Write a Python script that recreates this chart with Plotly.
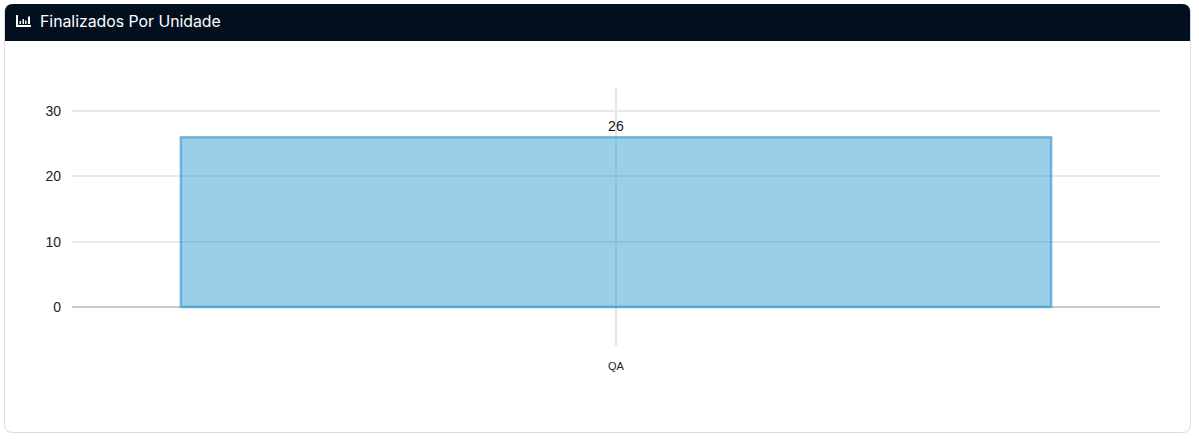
import plotly.graph_objects as go

categories = ["QA"]
values = [26]
y_ticks = [0, 10, 20, 30]
title_text = "Finalizados Por Unidade"

W, H = 1199, 439
L, R, T, B = 72, 1160, 88, 346


def px(x):
    return (x - L) / (R - L)


def py(y):
    return (B - y) / (B - T)


def rounded(x0, y0, x1, y1, r_top, r_bot):
    # pixel-anchored shapes: x grows right from L, y grows upward from T
    X = lambda v: round(v - L, 2)
    Y = lambda v: round(T - v, 2)
    d = (f"M{X(x0)},{Y(y0 + r_top)} Q{X(x0)},{Y(y0)} {X(x0 + r_top)},{Y(y0)} "
         f"L{X(x1 - r_top)},{Y(y0)} Q{X(x1)},{Y(y0)} {X(x1)},{Y(y0 + r_top)} ")
    if r_bot:
        d += (f"L{X(x1)},{Y(y1 - r_bot)} Q{X(x1)},{Y(y1)} {X(x1 - r_bot)},{Y(y1)} "
              f"L{X(x0 + r_bot)},{Y(y1)} Q{X(x0)},{Y(y1)} {X(x0)},{Y(y1 - r_bot)} Z")
    else:
        d += f"L{X(x1)},{Y(y1)} L{X(x0)},{Y(y1)} Z"
    return d


def box(x0, y0, x1, y1, color):
    return dict(type="rect", xref="paper", yref="paper", layer="above",
                x0=px(x0), x1=px(x1), y0=py(y1), y1=py(y0),
                fillcolor=color, line_width=0)


def pix_path(x0, y0, x1, y1, r_top, r_bot, fill, line=None):
    return dict(type="path", xref="paper", yref="paper", xsizemode="pixel", ysizemode="pixel",
                xanchor=0, yanchor=1, path=rounded(x0, y0, x1, y1, r_top, r_bot), fillcolor=fill,
                line=dict(color=line or fill, width=1 if line else 0), layer="below")


shapes = [
    pix_path(4.5, 4.5, 1190.5, 432.5, 8, 8, "#ffffff", "#dcdcdc"),
    pix_path(5, 4, 1190, 41, 8, 0, "#020f1e"),
    # header icon
    box(16, 15, 18, 27, "#ffffff"),
    box(16, 25, 31, 27, "#ffffff"),
    box(19.5, 21, 21, 24, "#f4f4f4"),
    box(22.5, 19, 24, 24, "#f4f4f4"),
    box(25, 20.5, 26.5, 24, "#f4f4f4"),
    box(28, 16.5, 30, 24, "#ffffff"),
]

fig = go.Figure(
    go.Bar(
        x=categories,
        y=values,
        width=0.8,
        text=values,
        textposition="outside",
        cliponaxis=False,
        textfont=dict(family="Liberation Sans, Arial, sans-serif", size=14, color="#111111"),
        marker=dict(color="rgba(3,136,201,0.4)", line=dict(color="rgba(50,150,200,0.6)", width=2.5)),
        hoverinfo="x+y",
    )
)

fig.update_layout(
    width=W,
    height=H,
    margin=dict(l=L, r=W - R, t=T, b=H - B, pad=0),
    paper_bgcolor="#ffffff",
    plot_bgcolor="rgba(0,0,0,0)",
    showlegend=False,
    shapes=shapes,
    annotations=[
        dict(text=title_text, xref="paper", yref="paper", x=px(37.5), y=py(21.5),
             xanchor="left", yanchor="middle", showarrow=False,
             font=dict(family="Inter, Open Sans, sans-serif", size=15.8, color="#ffffff")),
    ],
)
fig.update_xaxes(
    type="category",
    range=[-0.5, 0.5],
    showgrid=True,
    gridcolor="#e8e8e8",
    gridwidth=1.5,
    zeroline=False,
    showline=False,
    ticks="",
    ticklabelstandoff=12,
    tickfont=dict(family="Liberation Sans, Arial, sans-serif", size=11, color="#222222"),
)
fig.update_yaxes(
    range=[-5.97, 33.52],
    tickmode="array",
    tickvals=y_ticks,
    showgrid=True,
    gridcolor="#e8e8e8",
    gridwidth=1.5,
    zeroline=True,
    zerolinecolor="#c8c8c8",
    zerolinewidth=2,
    showline=False,
    ticks="",
    ticklabelstandoff=10,
    tickfont=dict(family="Liberation Sans, Arial, sans-serif", size=14, color="#222222"),
)

fig.write_html("out.html", config={"displayModeBar": False},
               post_script="document.body.style.margin='0';")
